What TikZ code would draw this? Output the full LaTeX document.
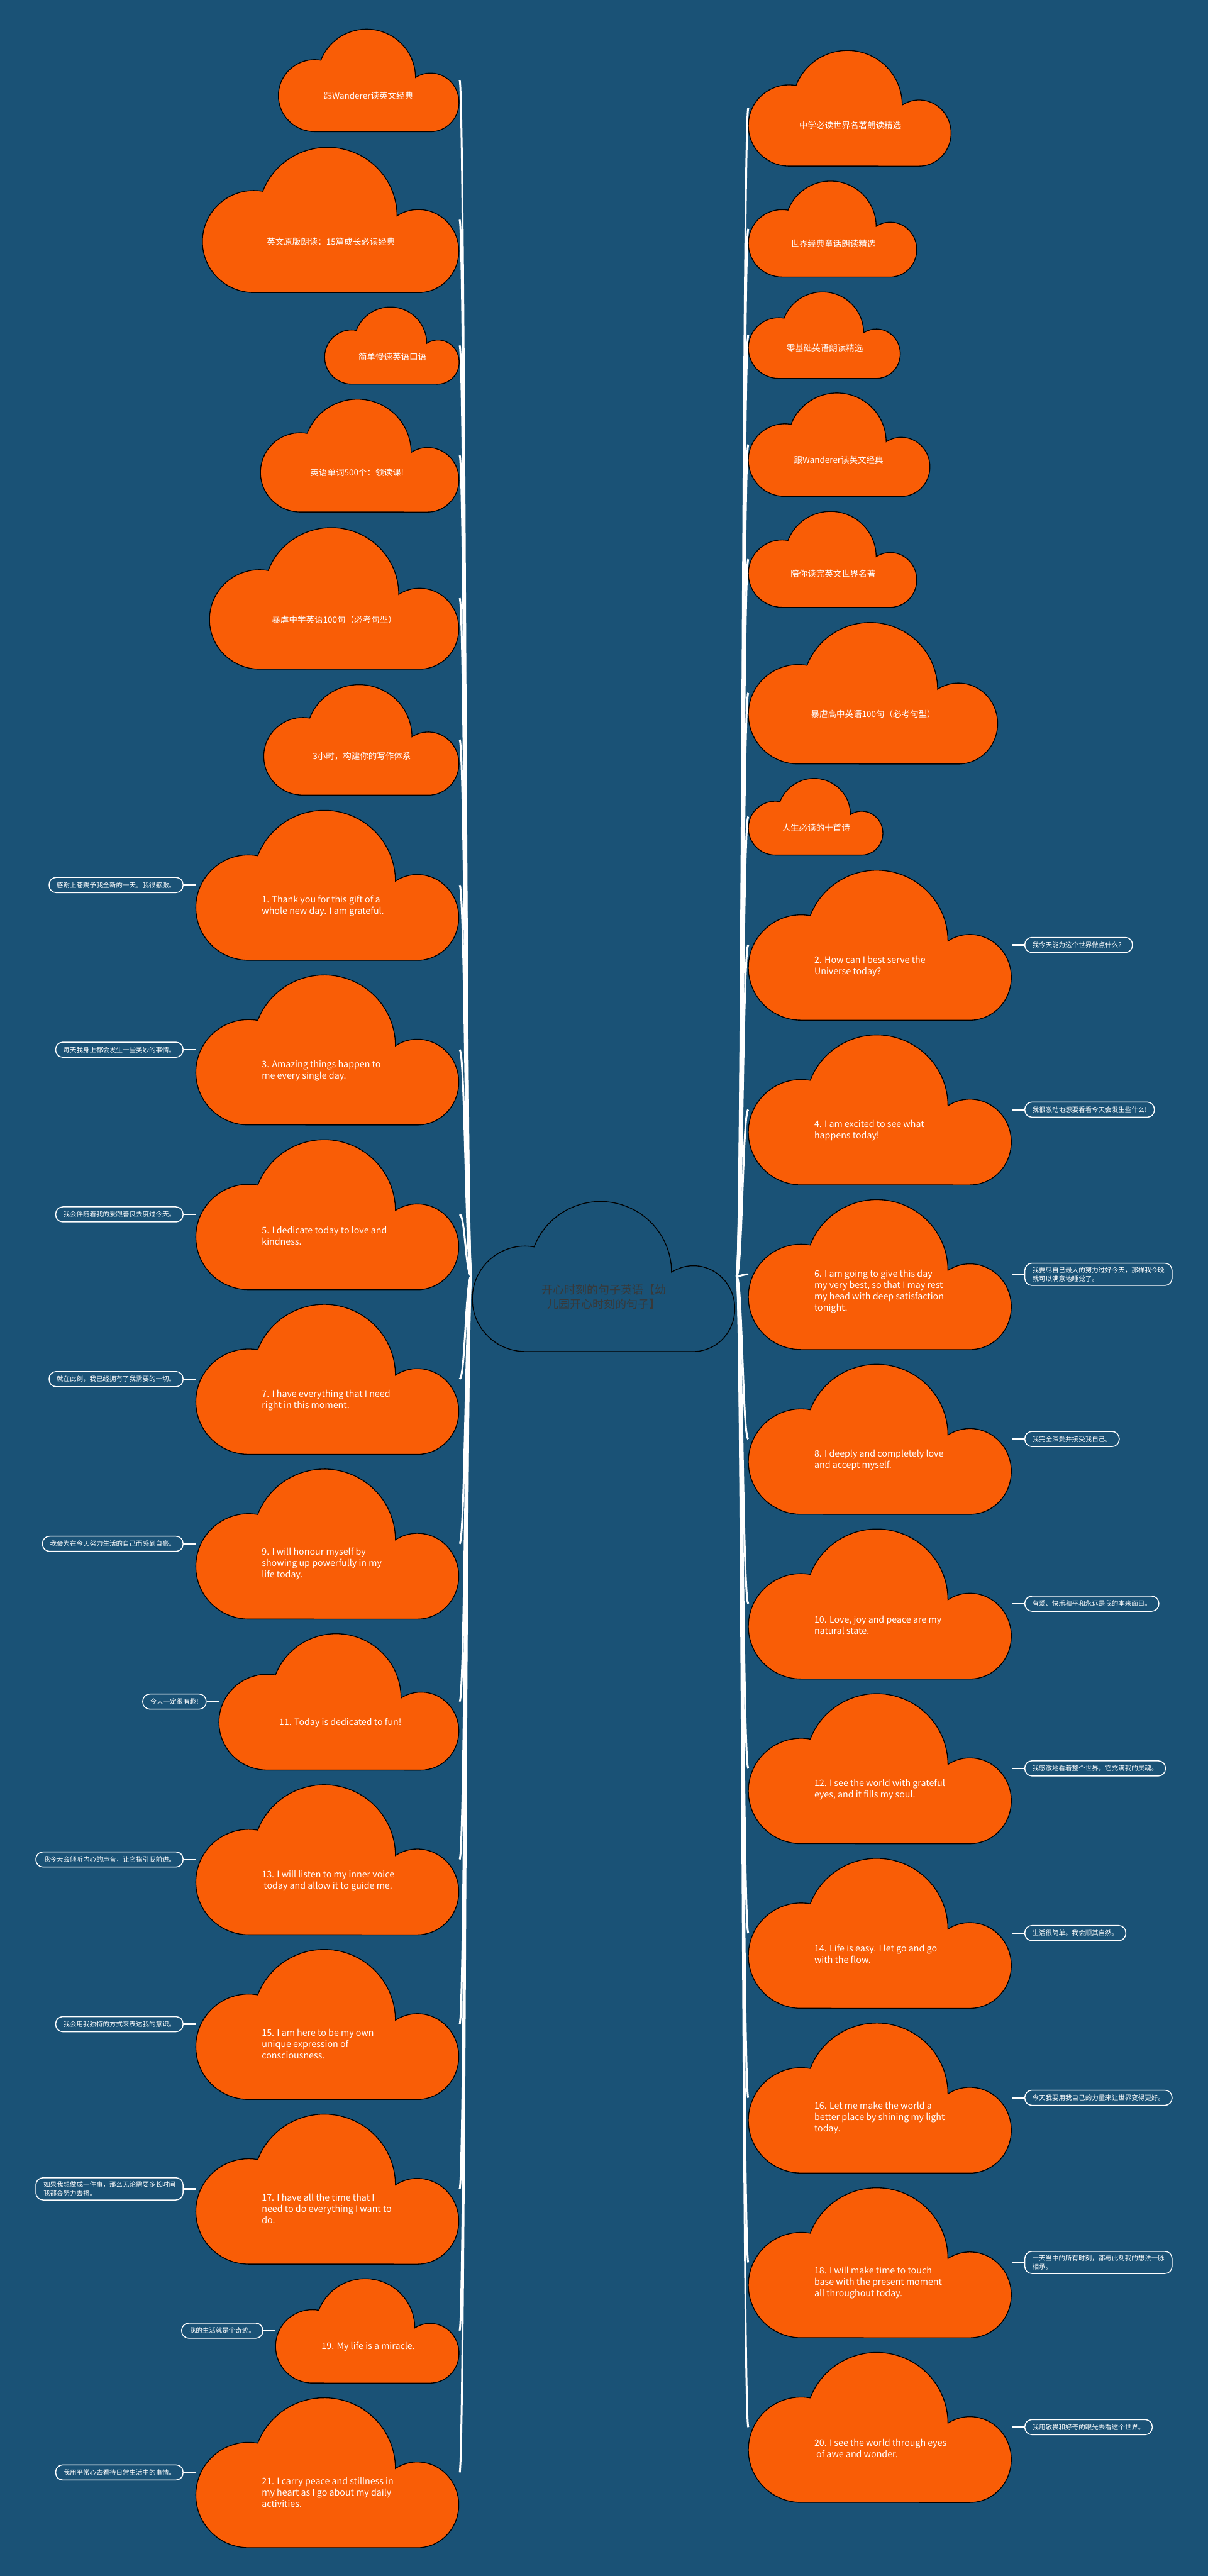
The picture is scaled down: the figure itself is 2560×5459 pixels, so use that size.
\documentclass[tikz,border=0pt]{standalone}
\usepackage{fontspec}
\setmainfont{Noto Sans CJK SC}
\usetikzlibrary{calc}
\definecolor{bgblue}{HTML}{1A5276}
\definecolor{cloudor}{HTML}{F95D06}
\definecolor{ctext}{HTML}{383838}
\pgfdeclarelayer{bglayer}
\pgfdeclarelayer{linelayer}
\pgfsetlayers{bglayer,linelayer,main}
\newcommand\cfen{\fontsize{19}{24}\selectfont}
\newcommand\cfzh{\fontsize{18}{22}\selectfont}
\tikzset{
  cloudpath/.style={fill=cloudor, draw=black, line width=1.8pt},
  centercloud/.style={fill=bgblue, draw=black, line width=1.8pt},
  cloudtext/.style={text=white, font=\cfen, align=left, inner sep=0pt, anchor=west},
  bubble/.style={draw=white, line width=2pt, fill=bgblue, text=white, rounded corners=15pt,
    font=\fontsize{14}{18}\selectfont, align=left, inner xsep=16pt, inner ysep=8pt, minimum height=32pt},
  trunk/.style={white, line width=4pt},
  twig/.style={white, line width=3pt},
}
\newcommand\cloudoutline[5]{%
  \begin{scope}[shift={(#2,#3)}, xscale=#4, yscale=#5]
    \path[#1] (0.2,1) arc[start angle=90,end angle=280,x radius=0.2,y radius=0.35]
      arc[start angle=201,end angle=360,x radius=0.27,y radius=0.47]
      arc[start angle=238,end angle=450,x radius=0.157,y radius=0.285] -- cycle;
  \end{scope}}
\newcommand\ccloud[7]{%
  \cloudoutline{cloudpath}{#2}{#3}{#4}{#5}
  \node[cloudtext] (#1) at ({#2+0.25*#4},{#3+#6*#5}) {#7};
  \coordinate (#1-w) at (#2,{#3+0.5*#5});
  \coordinate (#1-e) at ({#2+#4},{#3+0.5*#5});
}
\newcommand\leftlink[1]{\draw[trunk] (c-w) .. controls ($(c-w)+(-12,0)$) and ($(#1-e)+(12,0)$) .. (#1-e);}
\newcommand\rightlink[1]{\draw[trunk] (c-e) .. controls ($(c-e)+(12,0)$) and ($(#1-w)+(-12,0)$) .. (#1-w);}
\newcommand\lbub[3]{\node[bubble, anchor=east] (#1) at ($(#2-w)+(-26,0)$) {#3};
  \begin{pgfonlayer}{linelayer}\draw[twig] (#1.east) -- (#2-w);\end{pgfonlayer}}
\newcommand\rbub[3]{\node[bubble, anchor=west] (#1) at ($(#2-e)+(26,0)$) {#3};
  \begin{pgfonlayer}{linelayer}\draw[twig] (#2-e) -- (#1.west);\end{pgfonlayer}}

\begin{document}
\begin{tikzpicture}[x=1pt,y=-1pt]
\begin{pgfonlayer}{bglayer}
\fill[bgblue] (0,0) rectangle (2560,5459);
\end{pgfonlayer}
\useasboundingbox (0,0) rectangle (2560,5459);

% center
\cloudoutline{centercloud}{1001}{2545}{558}{319}
\node[text=ctext, font=\fontsize{24}{31}\selectfont, align=center, inner sep=0pt] (c) at (1280,2748) {开心时刻的句子英语【幼\\儿园开心时刻的句子】};
\coordinate (c-w) at (999,2704);
\coordinate (c-e) at (1561,2704);

% left column
\ccloud{l1}{590}{61}{384}{218}{0.65}{\cfzh 跟Wanderer读英文经典}
\ccloud{l2}{429}{311}{545}{309}{0.65}{\cfzh 英文原版朗读：15篇成长必读经典}
\ccloud{l3}{688}{650}{286}{164}{0.65}{\cfzh 简单慢速英语口语}
\ccloud{l4}{552}{845}{422}{240}{0.65}{\cfzh 英语单词500个：领读课!}
\ccloud{l5}{444}{1117}{530}{301}{0.65}{\cfzh 暴虐中学英语100句（必考句型）}
\ccloud{l6}{559}{1450}{415}{235}{0.65}{\cfzh 3小时，构建你的写作体系}
\ccloud{l7}{415}{1716}{559}{319}{0.64}{1. Thank you for this gift of a\\whole new day. I am grateful.}
\ccloud{l8}{415}{2065}{559}{319}{0.64}{3. Amazing things happen to\\me every single day.}
\ccloud{l9}{415}{2414}{559}{319}{0.64}{5. I dedicate today to love and\\kindness.}
\ccloud{l10}{415}{2763}{559}{319}{0.64}{7. I have everything that I need\\right in this moment.}
\ccloud{l11}{415}{3112}{559}{319}{0.633}{9. I will honour myself by\\showing up powerfully in my\\life today.}
\ccloud{l12}{464}{3461}{510}{290}{0.655}{11. Today is dedicated to fun!}
\ccloud{l13}{415}{3781}{559}{319}{0.64}{13. I will listen to my inner voice\\\hspace*{4pt}today and allow it to guide me.}
\ccloud{l14}{415}{4130}{559}{319}{0.633}{15. I am here to be my own\\unique expression of\\consciousness.}
\ccloud{l15}{415}{4479}{559}{319}{0.633}{17. I have all the time that I\\need to do everything I want to\\do.}
\ccloud{l16}{584}{4828}{390}{222}{0.653}{19. My life is a miracle.}
\ccloud{l17}{415}{5080}{559}{319}{0.633}{21. I carry peace and stillness in\\my heart as I go about my daily\\activities.}

% right column
\ccloud{r1}{1586}{106}{431}{246}{0.65}{\cfzh 中学必读世界名著朗读精选}
\ccloud{r2}{1586}{383}{358}{204}{0.65}{\cfzh 世界经典童话朗读精选}
\ccloud{r3}{1586}{618}{323}{184}{0.65}{\cfzh 零基础英语朗读精选}
\ccloud{r4}{1586}{832}{386}{220}{0.65}{\cfzh 跟Wanderer读英文经典}
\ccloud{r5}{1586}{1083}{358}{204}{0.65}{\cfzh 陪你读完英文世界名著}
\ccloud{r6}{1586}{1318}{530}{301}{0.65}{\cfzh 暴虐高中英语100句（必考句型）}
\ccloud{r7}{1586}{1649}{286}{163}{0.65}{\cfzh 人生必读的十首诗}
\ccloud{r8}{1586}{1843}{559}{319}{0.64}{2. How can I best serve the\\Universe today?}
\ccloud{r9}{1586}{2192}{559}{319}{0.64}{4. I am excited to see what\\happens today!}
\ccloud{r10}{1586}{2541}{559}{319}{0.614}{6. I am going to give this day\\my very best, so that I may rest\\my head with deep satisfaction\\tonight.}
\ccloud{r11}{1586}{2890}{559}{319}{0.64}{8. I deeply and completely love\\and accept myself.}
\ccloud{r12}{1586}{3239}{559}{319}{0.64}{10. Love, joy and peace are my\\natural state.}
\ccloud{r13}{1586}{3588}{559}{319}{0.64}{12. I see the world with grateful\\eyes, and it fills my soul.}
\ccloud{r14}{1586}{3937}{559}{319}{0.64}{14. Life is easy. I let go and go\\with the flow.}
\ccloud{r15}{1586}{4286}{559}{319}{0.633}{16. Let me make the world a\\better place by shining my light\\today.}
\ccloud{r16}{1586}{4635}{559}{319}{0.633}{18. I will make time to touch\\base with the present moment\\all throughout today.}
\ccloud{r17}{1586}{4984}{559}{319}{0.64}{20. I see the world through eyes\\\hspace*{4pt}of awe and wonder.}

% bubbles
\lbub{b1}{l7}{感谢上苍赐予我全新的一天。我很感激。}
\lbub{b3}{l8}{每天我身上都会发生一些美妙的事情。}
\lbub{b5}{l9}{我会伴随着我的爱跟善良去度过今天。}
\lbub{b7}{l10}{就在此刻，我已经拥有了我需要的一切。}
\lbub{b9}{l11}{我会为在今天努力生活的自己而感到自豪。}
\lbub{b11}{l12}{今天一定很有趣!}
\lbub{b13}{l13}{我今天会倾听内心的声音，让它指引我前进。}
\lbub{b15}{l14}{我会用我独特的方式来表达我的意识。}
\lbub{b17}{l15}{如果我想做成一件事，那么无论需要多长时间\\我都会努力去挤。}
\lbub{b19}{l16}{我的生活就是个奇迹。}
\lbub{b21}{l17}{我用平常心去看待日常生活中的事情。}
\rbub{b2}{r8}{我今天能为这个世界做点什么？}
\rbub{b4}{r9}{我很激动地想要看看今天会发生些什么!}
\rbub{b6}{r10}{我要尽自己最大的努力过好今天，那样我今晚\\就可以满意地睡觉了。}
\rbub{b8}{r11}{我完全深爱并接受我自己。}
\rbub{b10}{r12}{有爱、快乐和平和永远是我的本来面目。}
\rbub{b12}{r13}{我感激地看着整个世界，它充满我的灵魂。}
\rbub{b14}{r14}{生活很简单。我会顺其自然。}
\rbub{b16}{r15}{今天我要用我自己的力量来让世界变得更好。}
\rbub{b18}{r16}{一天当中的所有时刻，都与此刻我的想法一脉\\相承。}
\rbub{b20}{r17}{我用敬畏和好奇的眼光去看这个世界。}

% trunk connectors
\begin{pgfonlayer}{linelayer}
\foreach \n in {l1,l2,l3,l4,l5,l6,l7,l8,l9,l10,l11,l12,l13,l14,l15,l16,l17} {\leftlink{\n}}
\foreach \n in {r1,r2,r3,r4,r5,r6,r7,r8,r9,r10,r11,r12,r13,r14,r15,r16,r17} {\rightlink{\n}}
\end{pgfonlayer}
\end{tikzpicture}
\end{document}
